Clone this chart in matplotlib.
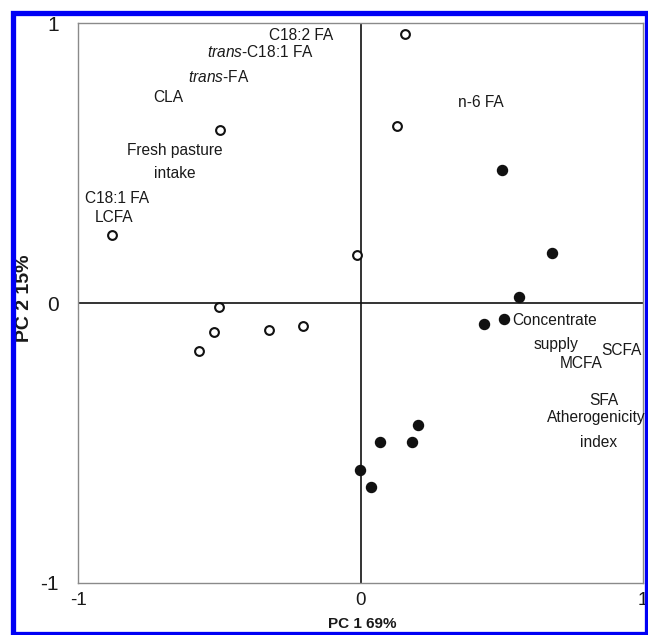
import matplotlib
matplotlib.use("Agg")
import matplotlib.pyplot as plt
from matplotlib.patches import Rectangle

plt.rcParams['font.family'] = ['Liberation Sans', 'DejaVu Sans']
plt.rcParams['mathtext.fontset'] = 'custom'
plt.rcParams['mathtext.rm'] = 'Liberation Sans'
plt.rcParams['mathtext.it'] = 'Liberation Sans:italic'

# ---------------------------------------------------------------------------
# Datos: cargas PCA (PC1, PC2)
# ---------------------------------------------------------------------------
# variables (círculos abiertos)
open_pc1 = [0.159, 0.130, -0.498, -0.880, -0.012, -0.500, -0.518, -0.572, -0.323, -0.203]
open_pc2 = [0.963, 0.634, 0.619, 0.243, 0.171, -0.013, -0.103, -0.171, -0.098, -0.081]

# muestras / variables (círculos rellenos)
filled_pc1 = [0.503, 0.680, 0.563, 0.439, 0.509, 0.204, 0.070, 0.182, -0.001, 0.037]
filled_pc2 = [0.474, 0.178, 0.023, -0.076, -0.057, -0.435, -0.498, -0.498, -0.598, -0.659]

ticks = [-1, 0, 1]
tick_labels = ['-1', '0', '1']

# etiquetas de texto: (texto, x, y, alineación)
labels = [
    ('C18:2 FA', -0.209, 0.955, 'center'),
    (r'$\it{trans}$-C18:1 FA', -0.356, 0.898, 'center'),
    (r'$\it{trans}$-FA', -0.503, 0.809, 'center'),
    ('CLA', -0.680, 0.733, 'center'),
    ('n-6 FA', 0.425, 0.718, 'center'),
    ('Fresh pasture', -0.657, 0.547, 'center'),
    ('intake', -0.659, 0.464, 'center'),
    ('C18:1 FA', -0.864, 0.372, 'center'),
    ('LCFA', -0.872, 0.306, 'center'),
    ('Concentrate', 0.536, -0.061, 'left'),
    ('supply', 0.693, -0.147, 'center'),
    ('SCFA', 0.923, -0.171, 'center'),
    ('MCFA', 0.781, -0.215, 'center'),
    ('SFA', 0.863, -0.349, 'center'),
    ('Atherogenicity', 0.835, -0.411, 'center'),
    ('index', 0.842, -0.497, 'center'),
]

# ---------------------------------------------------------------------------
# Figura
# ---------------------------------------------------------------------------
W, H = 648, 635
fig = plt.figure(figsize=(W / 100, H / 100), dpi=100)
ax = fig.add_axes([78.3 / W, 1 - 582.7 / H, 564.4 / W, 559.4 / H])

ax.axhline(0, color='#111111', lw=1.2, zorder=1)
ax.axvline(0, color='#111111', lw=1.2, zorder=1)

ax.scatter(open_pc1, open_pc2, s=40, facecolors='white', edgecolors='#111111',
           linewidths=1.5, zorder=3)
ax.scatter(filled_pc1, filled_pc2, s=52, color='#111111', zorder=3)

for txt, x, y, ha in labels:
    ax.text(x, y, txt, ha=ha, va='center', fontsize=11.2, color='#1a1a1a',
            clip_on=False)

ax.set_xlim(-1, 1)
ax.set_ylim(-1, 1)
ax.set_xticks(ticks)
ax.set_xticklabels(tick_labels)
ax.set_yticks(ticks)
ax.set_yticklabels(tick_labels)
ax.tick_params(axis='both', length=0, colors='#1a1a1a')
ax.tick_params(axis='x', pad=7, labelsize=13.5)
ax.tick_params(axis='y', pad=14, labelsize=15)

for sp in ax.spines.values():
    sp.set_color('#8a8a8a')
    sp.set_linewidth(1.0)

# etiqueta del eje x justo encima del marco (en el original queda recortada)
fig.text(362 / W, 1 - 623.5 / H, 'PC 1 69%', ha='center', va='center',
         fontsize=11, fontweight='bold', color='#1a1a1a', zorder=1)
fig.text(25 / W, 1 - 298 / H, 'PC 2 15%', ha='center', va='center',
         rotation=90, fontsize=14, fontweight='bold', color='#1a1a1a', zorder=1)

# marco azul
x0, y0, x1, y1 = 13.3, 13, 647, 633.5
frame = Rectangle((x0 / W, 1 - y1 / H), (x1 - x0) / W, (y1 - y0) / H,
                  transform=fig.transFigure, fill=False, edgecolor='#0000f5',
                  linewidth=3.8, zorder=10)
fig.patches.append(frame)

fig.savefig('out.png', dpi=100)
